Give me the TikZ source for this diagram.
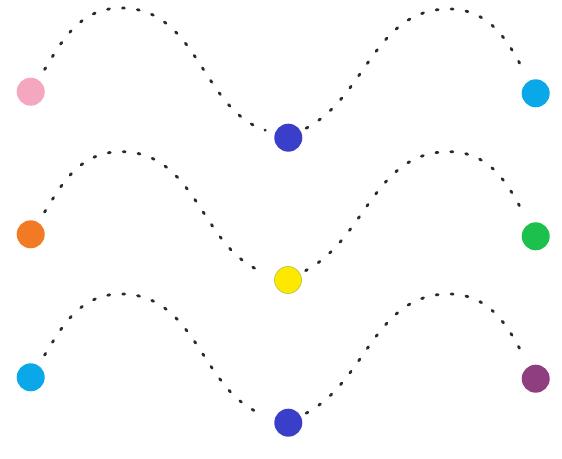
\documentclass[tikz,border=0pt]{standalone}
\definecolor{cpink}{HTML}{F4A7BE}
\definecolor{cblue}{HTML}{3A3FC9}
\definecolor{ccyan}{HTML}{0AA8E8}
\definecolor{corange}{HTML}{F27A25}
\definecolor{cyellow}{HTML}{FFE800}
\definecolor{cyedge}{HTML}{B9CC3A}
\definecolor{cgreen}{HTML}{1CC04C}
\definecolor{cpurple}{HTML}{8F3F80}
\definecolor{cdot}{HTML}{2A2A2A}
\begin{document}
\begin{tikzpicture}[x=1pt,y=1pt,
  ball/.style={circle,inner sep=0pt,minimum size=28pt,fill=#1,draw=none},
  wave/.style={draw=cdot,line width=2.8pt,line cap=round,dash pattern=on 2pt off 13pt}]
\useasboundingbox[fill=white] (0,0) rectangle (562,458);
% row 1
\node[ball=cpink] (L1) at (30.7,366.3) {};
\node[ball=cblue] (M1) at (288.3,320.3) {};
\node[ball=ccyan] (R1) at (535.7,364.7) {};
\coordinate (A1) at (121,450);
\coordinate (B1) at (449,449);
% row 2
\node[ball=corange] (L2) at (30.7,223.7) {};
\node[ball=cyellow,draw=cyedge,line width=0.8pt,minimum size=27pt] (M2) at (288,178) {};
\node[ball=cgreen] (R2) at (535.7,221.7) {};
\coordinate (A2) at (121,306.3);
\coordinate (B2) at (449,306.3);
% row 3
\node[ball=ccyan] (L3) at (30.7,80.7) {};
\node[ball=cblue] (M3) at (288.3,35.3) {};
\node[ball=cpurple] (R3) at (535.7,79.3) {};
\coordinate (A3) at (121,164);
\coordinate (B3) at (449,164);
% waves
\foreach \r in {1,2,3}{
  \draw[wave,shorten <=12pt,shorten >=10pt] (L\r) to[out=58,in=180] (A\r) to[out=0,in=162] (M\r);
  \draw[wave,shorten <=6pt,shorten >=10pt] (M\r) to[out=28,in=180] (B\r) to[out=0,in=118] (R\r);
}
\end{tikzpicture}
\end{document}
